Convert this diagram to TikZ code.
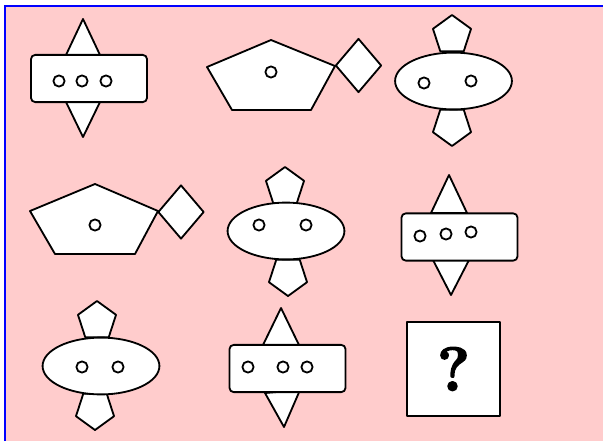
\documentclass[tikz,border=0pt]{standalone}
\usepackage{fontspec}
\usetikzlibrary{shapes.geometric, positioning}
\newfontfamily\askfont[FakeBold=2.5]{Latin Modern Roman}
\definecolor{puzpink}{HTML}{FFCCCC}
\definecolor{frameblue}{HTML}{0000FF}
\tikzset{
  piece/.style={draw=black, fill=white, line width=1.3pt, line join=round},
  plate/.style={piece, rectangle, rounded corners=3pt, minimum width=2.9cm,
                minimum height=1.18cm, inner sep=0},
  body/.style={piece, ellipse, minimum width=2.92cm, minimum height=1.42cm, inner sep=0},
  eye/.style={piece, circle, minimum size=0.28cm, inner sep=0},
  fin/.style={piece, regular polygon, regular polygon sides=5, minimum size=1.0cm, inner sep=0},
  findown/.style={fin, shape border rotate=180},
  kite/.style={piece, diamond, minimum width=1.15cm, minimum height=1.35cm, inner sep=0},
  askbox/.style={piece, rectangle, minimum size=2.33cm, inner sep=0,
                 font=\fontsize{44}{48}\askfont\bfseries},
}
\begin{document}
\begin{tikzpicture}[x=0.025cm, y=-0.025cm]
  \useasboundingbox (0,0) rectangle (603,441);
  % --- Background and frame ---
  \fill[puzpink] (5,6) rectangle (603,441);
  \draw[frameblue, line width=1.4pt] (5,441) -- (5,6) -- (603,6);

  % --- Row 1 ---
  % plate with spikes
  \draw[piece] (66,55) -- (83,19) -- (100,55) -- cycle;
  \draw[piece] (66,102) -- (100,102) -- (83,137) -- cycle;
  \node[plate] (p1) at (89,78.5) {};
  \node[eye] (p1a) at (59,81) {};
  \node[eye] (p1b) at (82,81) {};
  \node[eye] (p1c) at (106,81) {};

  % pentagon with kite
  \draw[piece] (271,40) -- (335,66) -- (311,110) -- (232,110) -- (207,67) -- cycle;
  \node[eye] (q1a) at (271,72) {};
  \node[kite] (k1) at (358.5,65.5) {};

  % ellipse with fins
  \node[fin] (f1u) at (452,35) {};
  \node[findown] (f1d) at (452,126) {};
  \node[body] (e1) at (453.5,81) {};
  \node[eye] (e1a) at (424,83) {};
  \node[eye] (e1b) at (471,81) {};

  % --- Row 2 ---
  \draw[piece] (95,184) -- (158,211) -- (135,254) -- (55,254) -- (30,211) -- cycle;
  \node[eye] (q2a) at (95,225) {};
  \node[kite] (k2) at (181,212) {};

  \node[fin] (f2u) at (285,187) {};
  \node[findown] (f2d) at (288,276) {};
  \node[body] (e2) at (286,231) {};
  \node[eye] (e2a) at (259,225) {};
  \node[eye] (e2b) at (306,225) {};

  \draw[piece] (431,213) -- (449,175) -- (467,213) -- cycle;
  \draw[piece] (433,260) -- (469,260) -- (451,295) -- cycle;
  \node[plate] (p2) at (459.5,237) {};
  \node[eye] (p2a) at (420,236) {};
  \node[eye] (p2b) at (446,234) {};
  \node[eye] (p2c) at (471,232) {};

  % --- Row 3 ---
  \node[fin] (f3u) at (97,321) {};
  \node[findown] (f3d) at (95,410) {};
  \node[body] (e3) at (101,366) {};
  \node[eye] (e3a) at (82,367) {};
  \node[eye] (e3b) at (118,367) {};

  \draw[piece] (263,345) -- (281,308) -- (299,345) -- cycle;
  \draw[piece] (265,393) -- (300,390) -- (284,427) -- cycle;
  \node[plate] (p3) at (287.5,368.5) {};
  \node[eye] (p3a) at (248,367) {};
  \node[eye] (p3b) at (283,367) {};
  \node[eye] (p3c) at (307,367) {};

  % --- Missing tile ---
  \node[askbox] (ask) at (453.5,369) {?};
\end{tikzpicture}
\end{document}
